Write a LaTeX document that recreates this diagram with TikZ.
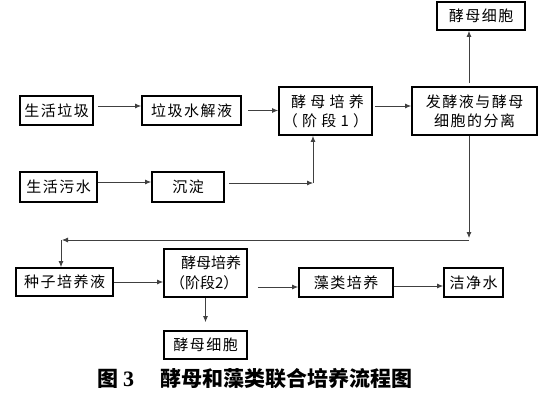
\documentclass[tikz,border=0pt]{standalone}
\usepackage{fontspec}
\setmainfont{Liberation Serif}
\newfontfamily\cjk{Noto Sans CJK SC}
\newfontfamily\cjksp{Noto Sans CJK SC}[LetterSpace=10]
\newfontfamily\cjkwide{Noto Sans CJK SC}[LetterSpace=28]
\usetikzlibrary{arrows.meta,calc}
\begin{document}
\begin{tikzpicture}[x=1pt,y=-1pt,
  box/.style={draw, line width=1.8pt, inner sep=0pt, align=center,
    font=\cjksp\fontsize{15}{19}\selectfont},
  arr/.style={line width=0.8pt, draw=black!75, -{Latex[length=6pt,width=5pt]}},
  ln/.style={line width=0.8pt, draw=black!75}]
\useasboundingbox[fill=white] (0,0) rectangle (553,401);

\node[box, minimum width=73pt, minimum height=29pt] (lj) at (56.5,110.5) {生活垃圾};
\node[box, minimum width=99pt, minimum height=29pt] (sj) at (191.5,110.5) {垃圾水解液};
\node[box, minimum width=77pt, minimum height=30pt] (ws) at (58.5,187) {生活污水};
\node[box, minimum width=72pt, minimum height=30pt] (cd) at (188,187) {沉淀};
\node[box, minimum width=93pt, minimum height=48pt, font=\cjkwide\fontsize{15}{19}\selectfont] (py1) at (325.5,111) {\hspace{4pt}酵母培养\\（阶段1）};
\node[box, minimum width=125pt, minimum height=48pt] (fl) at (474.5,111) {发酵液与酵母\\细胞的分离};
\node[box, minimum width=88pt, minimum height=28pt] (jm1) at (481,16) {酵母细胞};
\node[box, minimum width=97pt, minimum height=28pt] (zz) at (64.5,282) {种子培养液};
\node[box, minimum width=83pt, minimum height=48pt, align=left, font=\cjk\fontsize{15}{20}\selectfont] (py2) at (205.5,273) {\hspace{11pt}酵母培养\\（阶段2）};
\node[box, minimum width=94pt, minimum height=29pt] (zl) at (346,282.5) {藻类培养};
\node[box, minimum width=59pt, minimum height=29pt] (jj) at (473.5,282.5) {洁净水};
\node[box, minimum width=83pt, minimum height=28pt] (jm2) at (205.5,345) {酵母细胞};

\node[anchor=west, inner sep=0pt] (cap) at (97,379)
  {\cjk\bfseries\fontsize{21}{24}\selectfont 图\hspace{5pt}{\rmfamily\bfseries\fontsize{22}{24}\selectfont 3}\hspace{26pt}酵母和藻类联合培养流程图};

\coordinate (m) at (313,183);
\coordinate (c1) at (469,240);
\coordinate (c2) at (61,240);
\coordinate (u) at (469,83);

\draw[arr] ($(lj.east)+(4,-4.5)$) -- ($(lj.east -| sj.west)+(0,-4.5)$);
\draw[arr] ($(sj.east)+(6,0)$) -- (sj.east -| py1.west);
\draw[arr] ($(ws.east)+(0,-5)$) -- ($(ws.east -| cd.west)+(0,-5)$);
\draw[arr] ($(cd.east)+(4,-4)$) -- (m);
\draw[arr] (m) -- (m |- py1.south);
\draw[arr] ($(py1.east)+(2,-5)$) -- ($(py1.east -| fl.west)+(0,-5)$);
\draw[arr] (u) -- (u |- jm1.south);
\draw[arr] ($(fl.south)+(-5.5,0)$) -- ($(c1)+(0,-2)$);
\draw[arr] (c1) -- ($(c2)+(1,0)$);
\draw[arr] (c2) -- (c2 |- zz.north);
\draw[arr] (zz.east) -- (zz.east -| py2.west);
\draw[arr] ($(py2.east |- zl.west)+(10,4.5)$) -- ($(zl.west)+(0,4.5)$);
\draw[arr] ($(zl.east)+(0,3.5)$) -- ($(zl.east -| jj.west)+(0,3.5)$);
\draw[arr] (py2.south) -- ($(jm2.north)+(0,-8)$);
\end{tikzpicture}
\end{document}
